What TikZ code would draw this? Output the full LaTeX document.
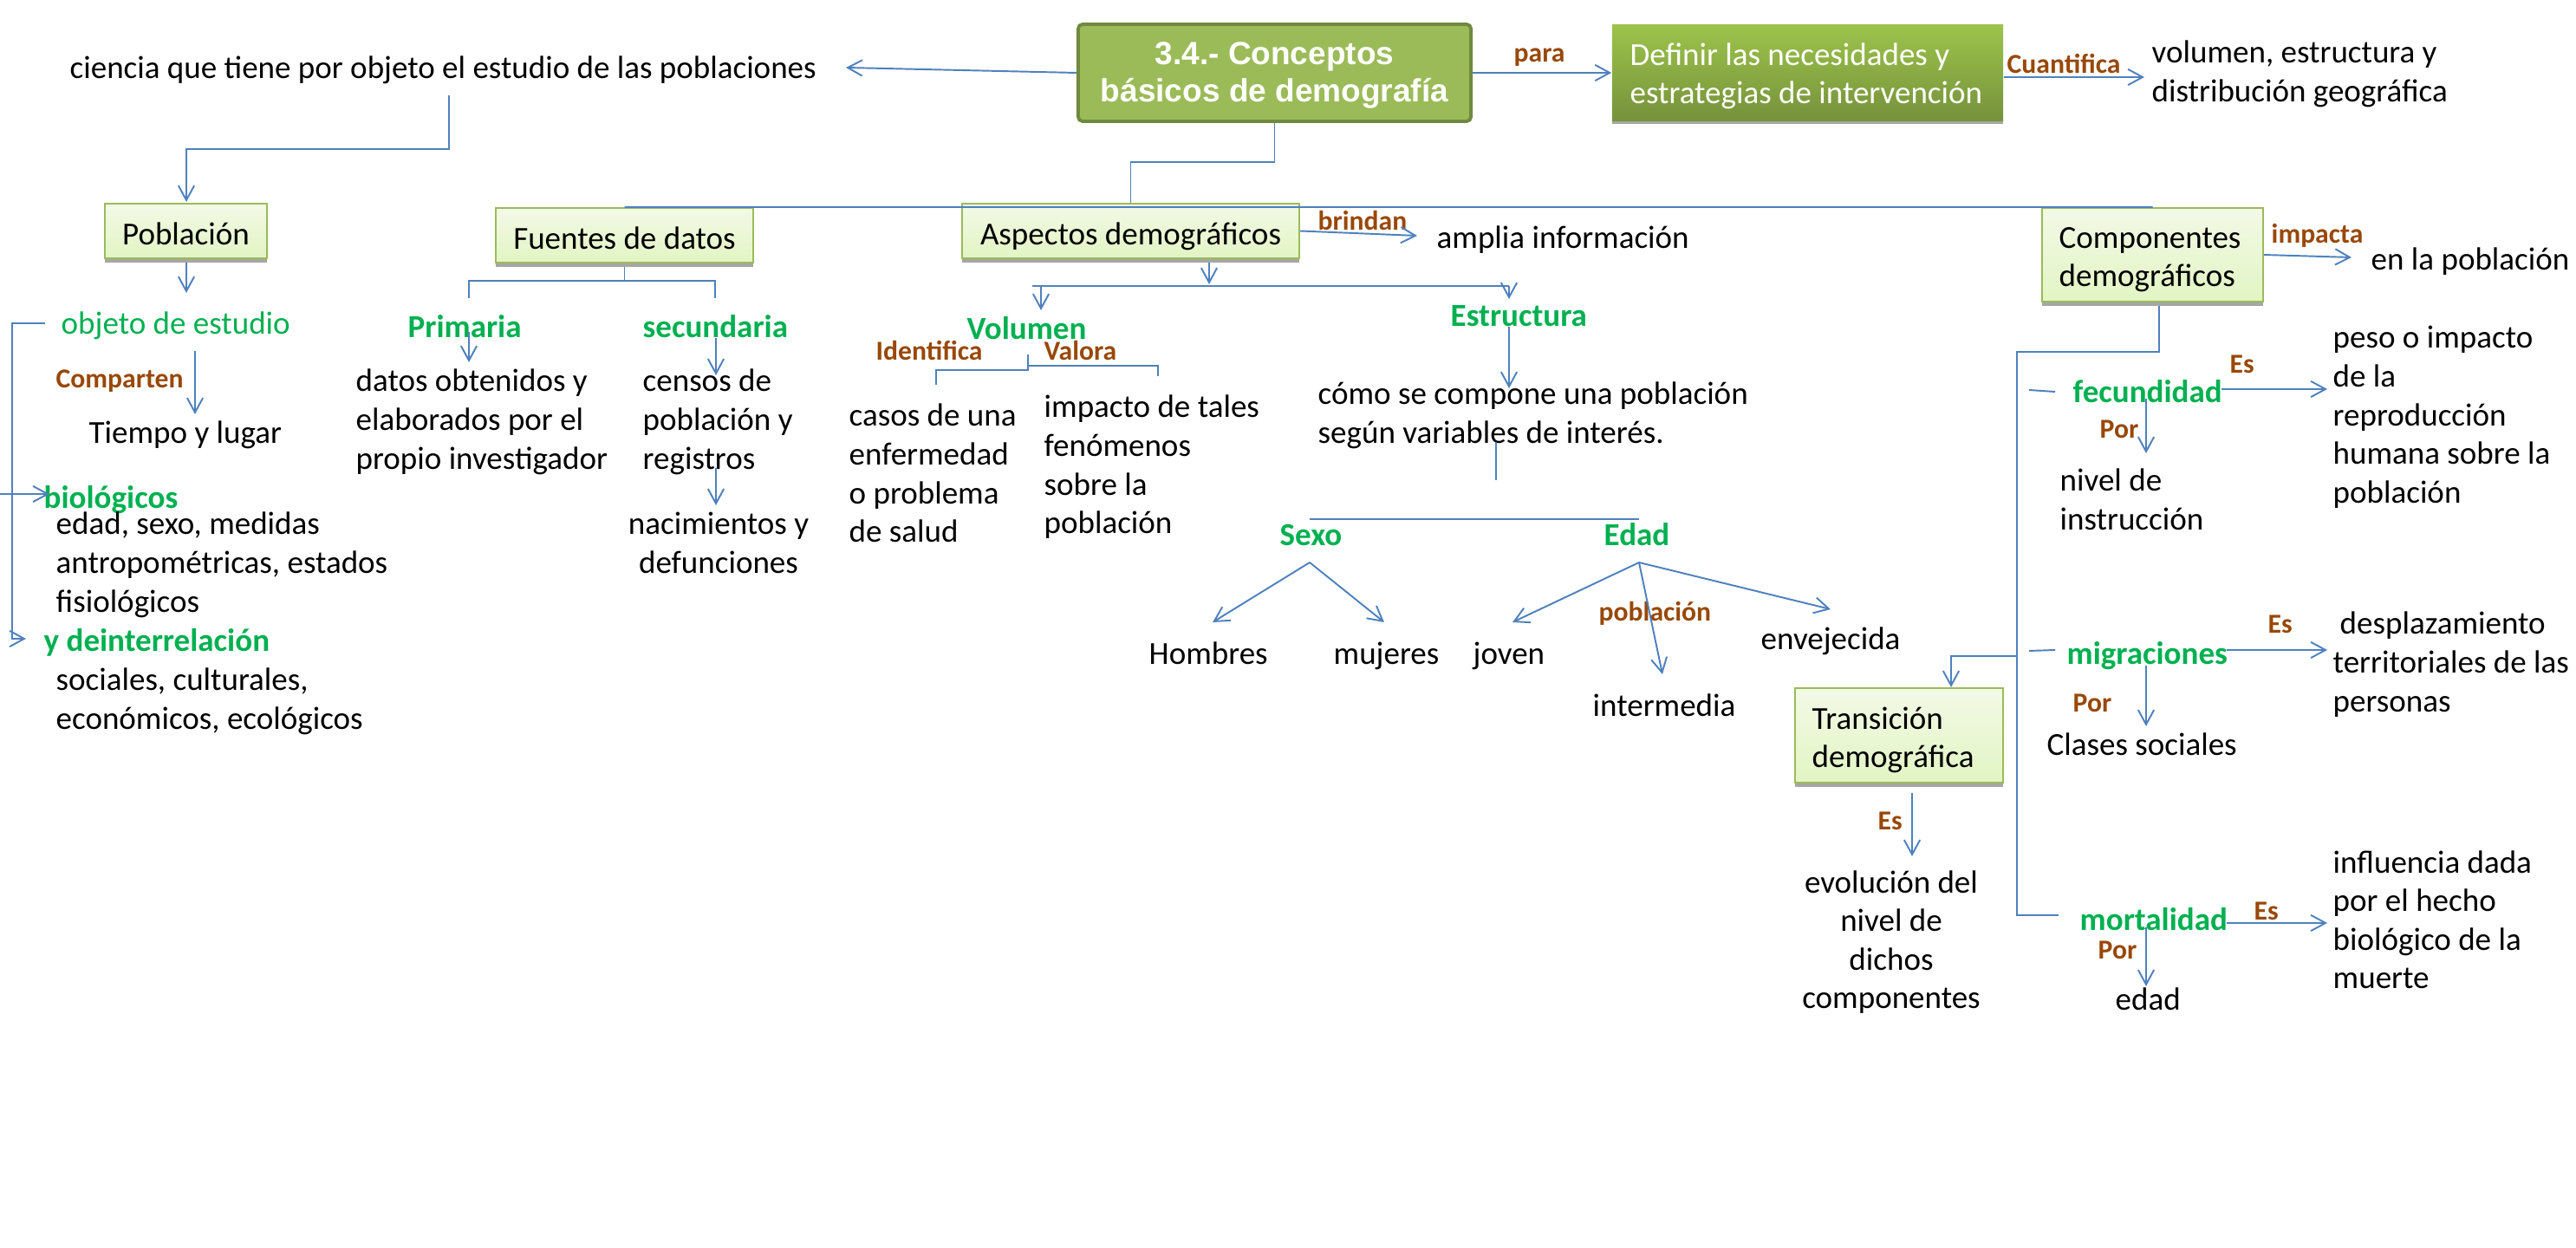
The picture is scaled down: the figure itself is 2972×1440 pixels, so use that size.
\documentclass[tikz,border=0pt]{standalone}
\usepackage{fontspec}
\setmainfont{Carlito}
\newfontfamily\arialfont{Liberation Sans}
\usetikzlibrary{arrows.meta}
\definecolor{lineblue}{HTML}{4F81BD}
\definecolor{tgreen}{HTML}{00B050}
\definecolor{tbrown}{HTML}{984807}
\definecolor{lborder}{HTML}{9BBB59}
\definecolor{ltop}{HTML}{F3F9E7}
\definecolor{lbot}{HTML}{E2F5C3}
\definecolor{shgray}{HTML}{A6A6A6}
\definecolor{mainfill}{HTML}{9BBB59}
\definecolor{mainborder}{HTML}{71893F}
\definecolor{dtop}{HTML}{9DC34B}
\definecolor{dbot}{HTML}{76923C}
\newcommand\fbody{\fontsize{10.53pt}{12.66pt}\selectfont}
\newcommand\fboxtxt{\fontsize{10.53pt}{12.35pt}\selectfont}
\newcommand\flab{\fontsize{9pt}{10.8pt}\selectfont\bfseries}
\newcommand\mll[1]{\begin{tabular}[t]{@{}l@{}}#1\end{tabular}}
\newcommand\mlc[1]{\begin{tabular}[t]{@{}c@{}}#1\end{tabular}}
\begin{document}
\begin{tikzpicture}[x=0.01cm, y=-0.01cm,
  conn/.style={draw=lineblue, line width=0.55pt},
  arr/.style={conn, -{Straight Barb[length=4.8pt,width=5.2pt]}},
  txt/.style={anchor=base west, inner sep=0pt, font=\fbody, text=black},
  ctxt/.style={anchor=base, inner sep=0pt, font=\fbody, text=black},
  gtxt/.style={anchor=base west, inner sep=0pt, font=\fbody\bfseries, text=tgreen},
  btxt/.style={anchor=base west, inner sep=0pt, font=\flab, text=tbrown},
  lbox/.style={draw=lborder, line width=0.6pt, top color=ltop, bottom color=lbot,
    preaction={fill=shgray, transform canvas={yshift=-0.05cm}},
    inner sep=0pt, font=\fbody, text height=0.89em, text depth=0pt}
]
\fill[white] (0,0) rectangle (2972,1440);
\useasboundingbox (0,0) rectangle (2972,1440);

% ---------- boxes ----------
\node[draw=mainborder, line width=1.1pt, fill=mainfill, rounded corners=1.5pt,
  minimum width=4.53cm, minimum height=1.12cm, inner sep=0pt] (main) at (1470.5,84) {};
\node[anchor=base, inner sep=0pt, text=white, font={\arialfont\bfseries\fontsize{10.53pt}{12.2pt}\selectfont}]
  (mainA) at (1470.5,75) {3.4.- Conceptos};
\node[anchor=base, inner sep=0pt, text=white, font={\arialfont\bfseries\fontsize{10.53pt}{12.2pt}\selectfont}]
  (mainB) at (1470.5,118) {básicos de demografía};
\node[top color=dtop, bottom color=dbot, minimum width=4.51cm, minimum height=1.10cm, inner sep=0pt,
  preaction={fill=shgray, transform canvas={yshift=-0.04cm}}] (def) at (2085.5,84) {};
\node[anchor=base west, inner sep=0pt, text=white, font=\fboxtxt] (defA) at (1880,76)
  {\mll{Definir las necesidades y\\estrategias de intervención}};
\node[lbox, minimum width=1.87cm, minimum height=0.63cm] (pob) at (214.5,266.5) {Población};
\node[lbox, minimum width=2.97cm, minimum height=0.63cm] (fue) at (720.5,271.5) {Fuentes de datos};
\node[lbox, minimum width=3.89cm, minimum height=0.63cm] (asp) at (1304.5,266.5) {Aspectos demográficos};
\node[lbox, minimum width=2.55cm, minimum height=1.08cm, text height=0pt] (comp) at (2483.5,294) {};
\node[anchor=base west, inner sep=0pt, font=\fboxtxt] (compA) at (2375,287) {\mll{Componentes\\demográficos}};
\node[lbox, minimum width=2.40cm, minimum height=1.09cm, text height=0pt] (tra) at (2191,848.5) {};
\node[anchor=base west, inner sep=0pt, font=\fboxtxt] (traA) at (2090,842) {\mll{Transición\\demográfica}};

% ---------- texts ----------
\node[txt] (cien) at (80,91) {ciencia que tiene por objeto el estudio de las poblaciones};
\node[btxt] (para) at (1746,72) {para};
\node[btxt] (cuan) at (2315,85) {Cuantifica};
\node[txt] (vol) at (2482,73) {\mll{volumen, estructura y\\distribución geográfica}};
\node[btxt] (brin) at (1520,266) {brindan};
\node[txt] (ampl) at (1657,287) {amplia información};
\node[btxt] (impa) at (2620,281) {impacta};
\node[txt] (enla) at (2735,312) {en la población};

\node[txt, text=tgreen] (obj) at (70,386) {objeto de estudio};
\node[gtxt] (prim) at (470,390) {Primaria};
\node[gtxt] (secu) at (741,390) {secundaria};
\node[btxt] (compa) at (64,448) {Comparten};
\node[txt] (tiem) at (102,512) {Tiempo y lugar};
\node[txt] (datos) at (410,452) {\mll{datos obtenidos y\\elaborados por el\\propio investigador}};
\node[txt] (cens) at (741,452) {\mll{censos de\\población y\\registros}};
\node[ctxt] (naci) at (829,617) {\mlc{nacimientos y\\defunciones}};
\node[gtxt] (biol) at (50,587) {biológicos};
\node[txt] (edsx) at (64,617) {\mll{edad, sexo, medidas\\antropométricas, estados\\fisiológicos}};
\node[gtxt] (inter) at (50,752) {y deinterrelación};
\node[txt] (soci) at (64,797) {\mll{sociales, culturales,\\económicos, ecológicos}};

\node[gtxt] (volu) at (1115,392) {Volumen};
\node[btxt] (iden) at (1010,416) {Identifica};
\node[btxt] (valo) at (1204,416) {Valora};
\node[txt] (caso) at (979,492) {\mll{casos de una\\enfermedad\\o problema\\de salud}};
\node[txt] (impc) at (1204,482) {\mll{impacto de tales\\fenómenos\\sobre la\\población}};
\node[gtxt] (estr) at (1673,377) {Estructura};
\node[txt] (como) at (1520,467) {\mll{cómo se compone una población\\según variables de interés.}};
\node[gtxt] (sexo) at (1476,630) {Sexo};
\node[gtxt] (edad) at (1850,630) {Edad};
\node[txt] (homb) at (1325,767) {Hombres};
\node[txt] (muje) at (1538,767) {mujeres};
\node[txt] (jove) at (1699,767) {joven};
\node[btxt] (pobl) at (1844,717) {población};
\node[txt] (intm) at (1837,827) {intermedia};
\node[txt] (enve) at (2031,750) {envejecida};

\node[gtxt] (fecu) at (2391,465) {fecundidad};
\node[btxt] (es1) at (2572,431) {Es};
\node[btxt] (por1) at (2422,506) {Por};
\node[txt] (nive) at (2376,567) {\mll{nivel de\\instrucción}};
\node[txt] (peso) at (2691,402) {\mll{peso o impacto\\de la\\reproducción\\humana sobre la\\población}};
\node[gtxt] (migr) at (2384,767) {migraciones};
\node[btxt] (es2) at (2616,731) {Es};
\node[txt] (desp) at (2691,732) {\mll{\hspace{0.08cm}desplazamiento\\territoriales de las\\personas}};
\node[btxt] (por2) at (2391,821) {Por};
\node[txt] (clas) at (2361,872) {Clases sociales};
\node[btxt] (es3) at (2166,957) {Es};
\node[ctxt] (evol) at (2182,1030) {\mlc{evolución del\\nivel de\\dichos\\componentes}};
\node[gtxt] (mort) at (2399,1073) {mortalidad};
\node[btxt] (es4) at (2600,1061) {Es};
\node[btxt] (por3) at (2420,1106) {Por};
\node[txt] (edad2) at (2440,1165) {edad};
\node[txt] (infl) at (2691,1007) {\mll{influencia dada\\por el hecho\\biológico de la\\muerte}};

% ---------- connectors ----------
\coordinate (cienA) at (976,78);
\draw[arr] (main.west) -- (cienA);
\draw[arr] (main.east) -- (def.west);
\draw[arr] ([yshift=-0.05cm]def.east) -- (2474,89);
\draw[arr] (518,110) -- (518,172) -- (215,172) -- (215,233);
\draw[arr] (215,303) -- (215,338);
\draw[conn] (main.south) -- (1470.5,187) -| (asp.north);
\draw[conn] (fue.north) -- (comp.north);
% fuentes
\draw[conn] (720.5,308) -- (720.5,324);
\draw[conn] (541,344) -- (541,324) -- (825,324) -- (825,344);
\draw[arr] (541,383) -- (541,418);
\draw[arr] (826,390) -- (826,433);
\draw[arr] (826,540) -- (826,583);
% poblacion
\draw[arr] (52,373) -- (14,373) -- (14,737) -- (30,737);
\draw[arr] (0,570) -- (57,570);
\draw[arr] (225,405) -- (225,478);
% aspectos
\draw[arr] (asp.east) -- (1635,272);
\draw[arr] (1395,303) -- (1395,328);
\draw[conn] (1191,330) -- (1741,330);
\draw[arr] (1201,330) -- (1201,358);
\draw[arr] (1741,330) -- (1741,345);
\draw[arr] (1741,377) -- (1741,448);
\draw[conn] (1080,444) -- (1080,427) -- (1186,427) -- (1186,409);
\draw[conn] (1186,422) -- (1336,422) -- (1336,434);
\draw[conn] (1726,510) -- (1726,554);
\draw[conn] (1511,599) -- (1891,599);
\draw[arr] (1511,649) -- (1399,718);
\draw[arr] (1511,649) -- (1597,718);
\draw[arr] (1891,649) -- (1745,718);
\draw[arr] (1891,649) -- (1918,778);
\draw[arr] (1891,649) -- (2112,703);
% componentes
\draw[arr] (comp.east) -- (2713,297);
\draw[conn] (2491,353) -- (2491,406) -- (2327,406) -- (2327,1056) -- (2375,1056);
\draw[conn] (2341,450) -- (2371,452);
\draw[arr] (2563,449) -- (2685,449);
\draw[arr] (2476,460) -- (2476,523);
\draw[conn] (2341,751) -- (2371,750);
\draw[arr] (2569,750) -- (2685,750);
\draw[arr] (2476,768) -- (2476,838);
\draw[arr] (2327,720) -- (2327,757) -- (2251,757) -- (2251,793);
\draw[arr] (2206,915) -- (2206,988);
\draw[arr] (2569,1065) -- (2685,1065);
\draw[arr] (2476,1070) -- (2476,1138);
\end{tikzpicture}
\end{document}
